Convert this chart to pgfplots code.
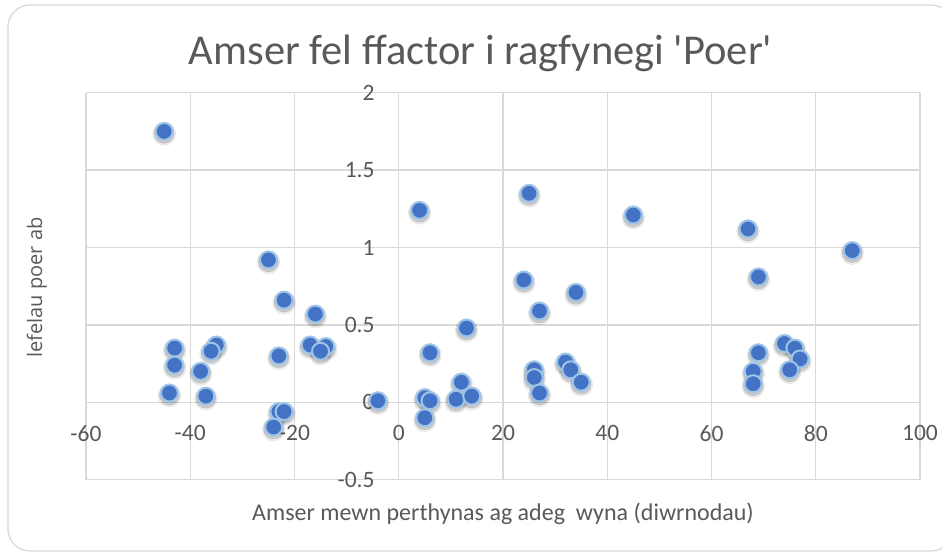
\documentclass[border=0pt]{standalone}
\usepackage{pgfplots}
\pgfplotsset{compat=1.18}
\usepackage{pgfplotstable}
\usepackage{fontspec}
\setmainfont{Carlito}
\newfontfamily\ylabfont{Open Sans}
\definecolor{txt}{HTML}{595959}
\definecolor{gridc}{HTML}{D9D9D9}
\definecolor{mfill}{HTML}{4472C4}
\definecolor{mdraw}{HTML}{9DC3E6}
\pgfplotstableread{
x y
-45 1.75
-25 0.92
-22 0.66
-16 0.57
-43 0.35
-43 0.24
-35 0.37
-36 0.33
-38 0.20
-44 0.06
-37 0.04
-23 0.30
-17 0.37
-14 0.36
-15 0.33
-23 -0.06
-22 -0.06
-24 -0.16
-4 0.01
4 1.24
6 0.32
5 0.03
6 0.01
5 -0.10
13 0.48
12 0.13
11 0.02
14 0.04
25 1.35
45 1.21
67 1.12
87 0.98
24 0.79
34 0.71
27 0.59
69 0.81
26 0.21
26 0.16
27 0.06
32 0.26
33 0.21
35 0.13
69 0.32
68 0.20
68 0.12
74 0.38
76 0.35
77 0.28
75 0.21
}\pts
\begin{document}
\begin{tikzpicture}[x=1pt,y=1pt]
\useasboundingbox (0,0) rectangle (942,553);
\clip (0,0) rectangle (942,553);
\fill[white] (0,0) rectangle (942,553);
\draw[gridc, line width=1.3pt, rounded corners=22pt] (8,2) rectangle (953,548);
\node[txt, font=\fontsize{42.5}{50}\selectfont, anchor=base] at (480.5,488)
  {Amser fel ffactor i ragfynegi \textquotesingle Poer\textquotesingle};
\node[txt, font=\fontsize{24}{28}\selectfont, anchor=base] at (503,32)
  {Amser mewn perthynas ag adeg\ \ wyna (diwrnodau)};
\node[txt, font=\ylabfont\fontsize{20}{24}\selectfont, rotate=90, anchor=center] at (37,265.5)
  {lefelau poer ab};
\begin{axis}[
  at={(86pt,73.3pt)}, anchor=south west,
  scale only axis, width=834pt, height=387pt,
  xmin=-60, xmax=100, ymin=-0.5, ymax=2,
  axis lines=middle,
  axis line style={-, draw=gridc, line width=1.3pt},
  every inner x axis line/.append style={-},
  every inner y axis line/.append style={-},
  xtick={-60,-40,...,100},
  ytick={-0.5,0,0.5,1,1.5,2},
  grid=major,
  major grid style={draw=gridc, line width=1.3pt},
  major tick length=0pt,
  hide obscured x ticks=false,
  hide obscured y ticks=false,
  /pgf/number format/assume math mode=true,
  tick label style={txt, font=\fontsize{23.5}{28}\selectfont, inner sep=0pt},
  xticklabel style={anchor=center, yshift=-31pt},
  yticklabel style={anchor=east, xshift=-24pt},
  clip=false,
]
\addplot[only marks, mark=*, mark size=11.5pt,
  mark options={draw=none, fill=black, opacity=0.07, yshift=-2.5pt}] table[x=x,y=y] {\pts};
\addplot[only marks, mark=*, mark size=10pt,
  mark options={draw=none, fill=black, opacity=0.14, yshift=-2pt}] table[x=x,y=y] {\pts};
\addplot[only marks, mark=*, mark size=8.5pt,
  mark options={draw=mdraw, fill=mfill, line width=2pt}] table[x=x,y=y] {\pts};
\end{axis}
\end{tikzpicture}
\end{document}
